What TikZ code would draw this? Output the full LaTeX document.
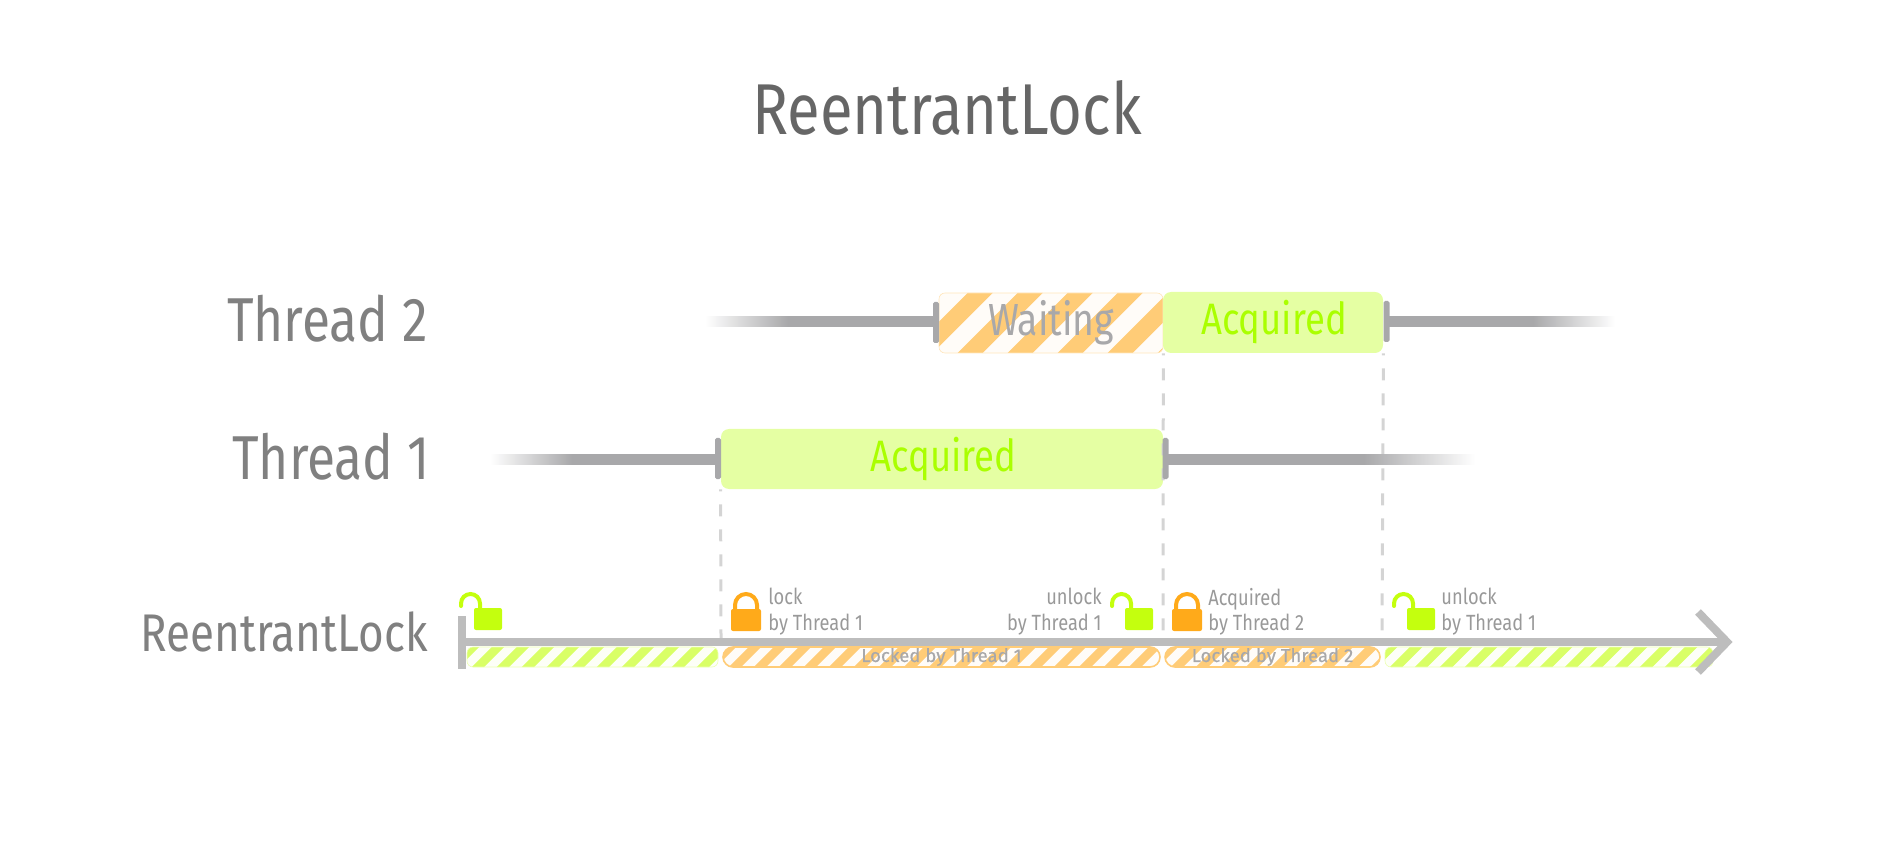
\documentclass[tikz,border=0pt]{standalone}
\usepackage{fontspec}
\setmainfont[FakeStretch=0.83]{Fira Sans}
\newfontfamily\widefont[FakeBold=0.4]{Fira Sans}
\usetikzlibrary{positioning}

\definecolor{titlegray}{HTML}{666666}
\definecolor{labelgray}{HTML}{808080}
\definecolor{notegray}{HTML}{999999}
\definecolor{linegray}{HTML}{A8A8AA}
\definecolor{axisgray}{HTML}{BDBDBD}
\definecolor{guidegray}{HTML}{D4D4D4}
\definecolor{acqfill}{HTML}{E5FFA3}
\definecolor{acqtext}{HTML}{AAFF00}
\definecolor{lockorange}{HTML}{FFAA1A}
\definecolor{lockgreen}{HTML}{C4FF0E}
\definecolor{stripeorange}{HTML}{FFCC77}
\definecolor{stripegreen}{HTML}{D9FF66}

\pgfdeclarehorizontalshading{fadein}{100bp}{color(0bp)=(white); color(25bp)=(white); color(43bp)=(linegray); color(100bp)=(linegray)}
\pgfdeclarehorizontalshading{fadeout}{100bp}{color(0bp)=(linegray); color(57bp)=(linegray); color(75bp)=(white); color(100bp)=(white)}

\tikzset{
    threadname/.style={anchor=base east, inner sep=0pt, text=labelgray, font=\fontsize{31}{36}\selectfont},
    acqbar/.style={rounded corners=4pt, fill=acqfill, inner sep=0pt, text=acqtext, font=\fontsize{22}{26}\selectfont},
    capbar/.style={rounded corners=0.8pt, fill=linegray, inner sep=0pt, minimum width=3pt, minimum height=20.5pt},
    % color, period, stripe width, offset, count
    stripebar/.style n args={5}{rounded corners=3pt, inner sep=0pt, fill=#1!5, draw=#1!50, line width=0.3pt,
        path picture={
            \foreach \i in {-3,...,#5}
                \draw[#1, line width=#3] ([xshift=\i*#2+#4]path picture bounding box.south west) +(225:12pt) -- +(45:80pt);
        }},
    lockedtext/.style={text=linegray, font=\widefont\fontsize{9.3}{10}\selectfont},
    guide/.style={guidegray, line width=1.5pt, dash pattern=on 6pt off 6.5pt, dash phase=5pt},
    note/.style={inner sep=0pt, text=notegray, font=\fontsize{11}{12.7}\selectfont},
    closedlock/.pic={
        \draw[lockorange, line width=2pt] (4,0) -- (4,-4) arc[start angle=180, end angle=0, radius=5.5pt] -- (26,0);
        \fill[lockorange, rounded corners=1pt] (0,0) rectangle (30,22);
    },
    openlock/.pic={
        \draw[lockgreen, line width=2pt, line cap=round] (-13,-2) -- (-13,-4.5) arc[start angle=180, end angle=0, radius=4.75pt] -- (6,0);
        \fill[lockgreen, rounded corners=1pt] (0,0) rectangle (28,22);
    }
}

\begin{document}
\begin{tikzpicture}[x=0.5pt, y=-0.5pt]
    \useasboundingbox (0,0) rectangle (1898,849);

    % labels
    \node[anchor=base, inner sep=0pt, text=titlegray, font=\fontsize{36}{42}\selectfont] at (947,135) (title) {ReentrantLock};
    \node[threadname] at (428,342) (name2) {Thread 2};
    \node[threadname] at (430,480) (name1) {Thread 1};
    \node[threadname, font=\fontsize{26.5}{32}\selectfont] at (428,651) (namelock) {ReentrantLock};

    % bars
    \node[stripebar={stripeorange}{25pt}{8.84pt}{-9.5pt}{6}, minimum width=112pt, minimum height=30pt, text=linegray, font=\fontsize{22.5}{26}\selectfont] at (1051,323) (wait2) {Waiting};
    \node[acqbar, minimum width=110pt, minimum height=30.5pt] at (1273,322.5) (acq2) {\hspace{1pt}Acquired};
    \node[acqbar, minimum width=221pt, minimum height=30pt] at (942,459) (acq1) {\hspace{1.5pt}Acquired};

    % coordinates for the axis
    \coordinate (tick1) at (721,638);
    \coordinate (tick2) at (1163,638);
    \coordinate (tick3) at (1382,638);
    \coordinate (axisbottom) at (462,669);
    \coordinate (axistop) at (462,616);
    \coordinate (axisleft) at (462,642);
    \coordinate (axistip) at (1727,642);
    \coordinate (chevup) at (1698,612);
    \coordinate (chevdown) at (1698,672);

    % guides
    \draw[guide] (acq1.south west) -- (tick1);
    \draw[guide] (wait2.south east) -- (tick2);
    \draw[guide] (acq2.south east) -- (tick3);

    % thread lines
    \node[capbar] at (936,322.5) (cap2l) {};
    \node[capbar] at (1386.5,321.5) (cap2r) {};
    \node[capbar] at (718,458.5) (cap1l) {};
    \node[capbar] at (1165.5,458.5) (cap1r) {};
    \shade[shading=fadein] (705,317) rectangle (cap2l.center |- 0,327);
    \shade[shading=fadeout] (cap2r.center |- 0,317) rectangle (1615,327);
    \shade[shading=fadein] (490,454) rectangle (cap1l.center |- 0,464);
    \shade[shading=fadeout] (cap1r.center |- 0,454) rectangle (1475,464);

    % stripes under the axis
    \node[stripebar={stripegreen}{12.5pt}{4.4pt}{5.5pt}{22}, minimum width=125.5pt, minimum height=10pt] at (592.5,657) (free1) {};
    \node[stripebar={stripeorange}{12.5pt}{4.4pt}{6pt}{37}, draw=stripeorange, line width=0.8pt, rounded corners=5pt, minimum width=218.5pt, minimum height=10pt, lockedtext] at (941.5,657) (held1) {Locked by Thread 1};
    \node[stripebar={stripeorange}{12.5pt}{4.4pt}{6pt}{19}, draw=stripeorange, line width=0.8pt, rounded corners=5pt, minimum width=107.5pt, minimum height=10pt, lockedtext] at (1272.5,657) (held2) {Locked by Thread 2};
    \node[stripebar={stripegreen}{12.5pt}{4.4pt}{5.5pt}{28}, minimum width=164pt, minimum height=10pt] at (1549,657) (free2) {};

    % axis
    \draw[axisgray, line width=4pt] (axisleft) -- (axistip);
    \draw[axisgray, line width=4pt] (axistop) -- (axisbottom);
    \draw[axisgray, line width=4pt, miter limit=4] (chevup) -- (axistip) -- (chevdown);

    % locks
    \pic at (474,608) {openlock};
    \pic at (731,609) {closedlock};
    \pic at (1125,608) {openlock};
    \pic at (1172,609) {closedlock};
    \pic at (1407,608) {openlock};

    % notes
    \node[note, anchor=north west, align=left] at (768,588) (note1) {lock\\by Thread 1};
    \node[note, anchor=north east, align=right] at (1102,588) (note2) {unlock\\by Thread 1};
    \node[note, anchor=north west, align=left] at (1208,588) (note3) {Acquired\\by Thread 2};
    \node[note, anchor=north west, align=left] at (1441,588) (note4) {unlock\\by Thread 1};
\end{tikzpicture}
\end{document}
